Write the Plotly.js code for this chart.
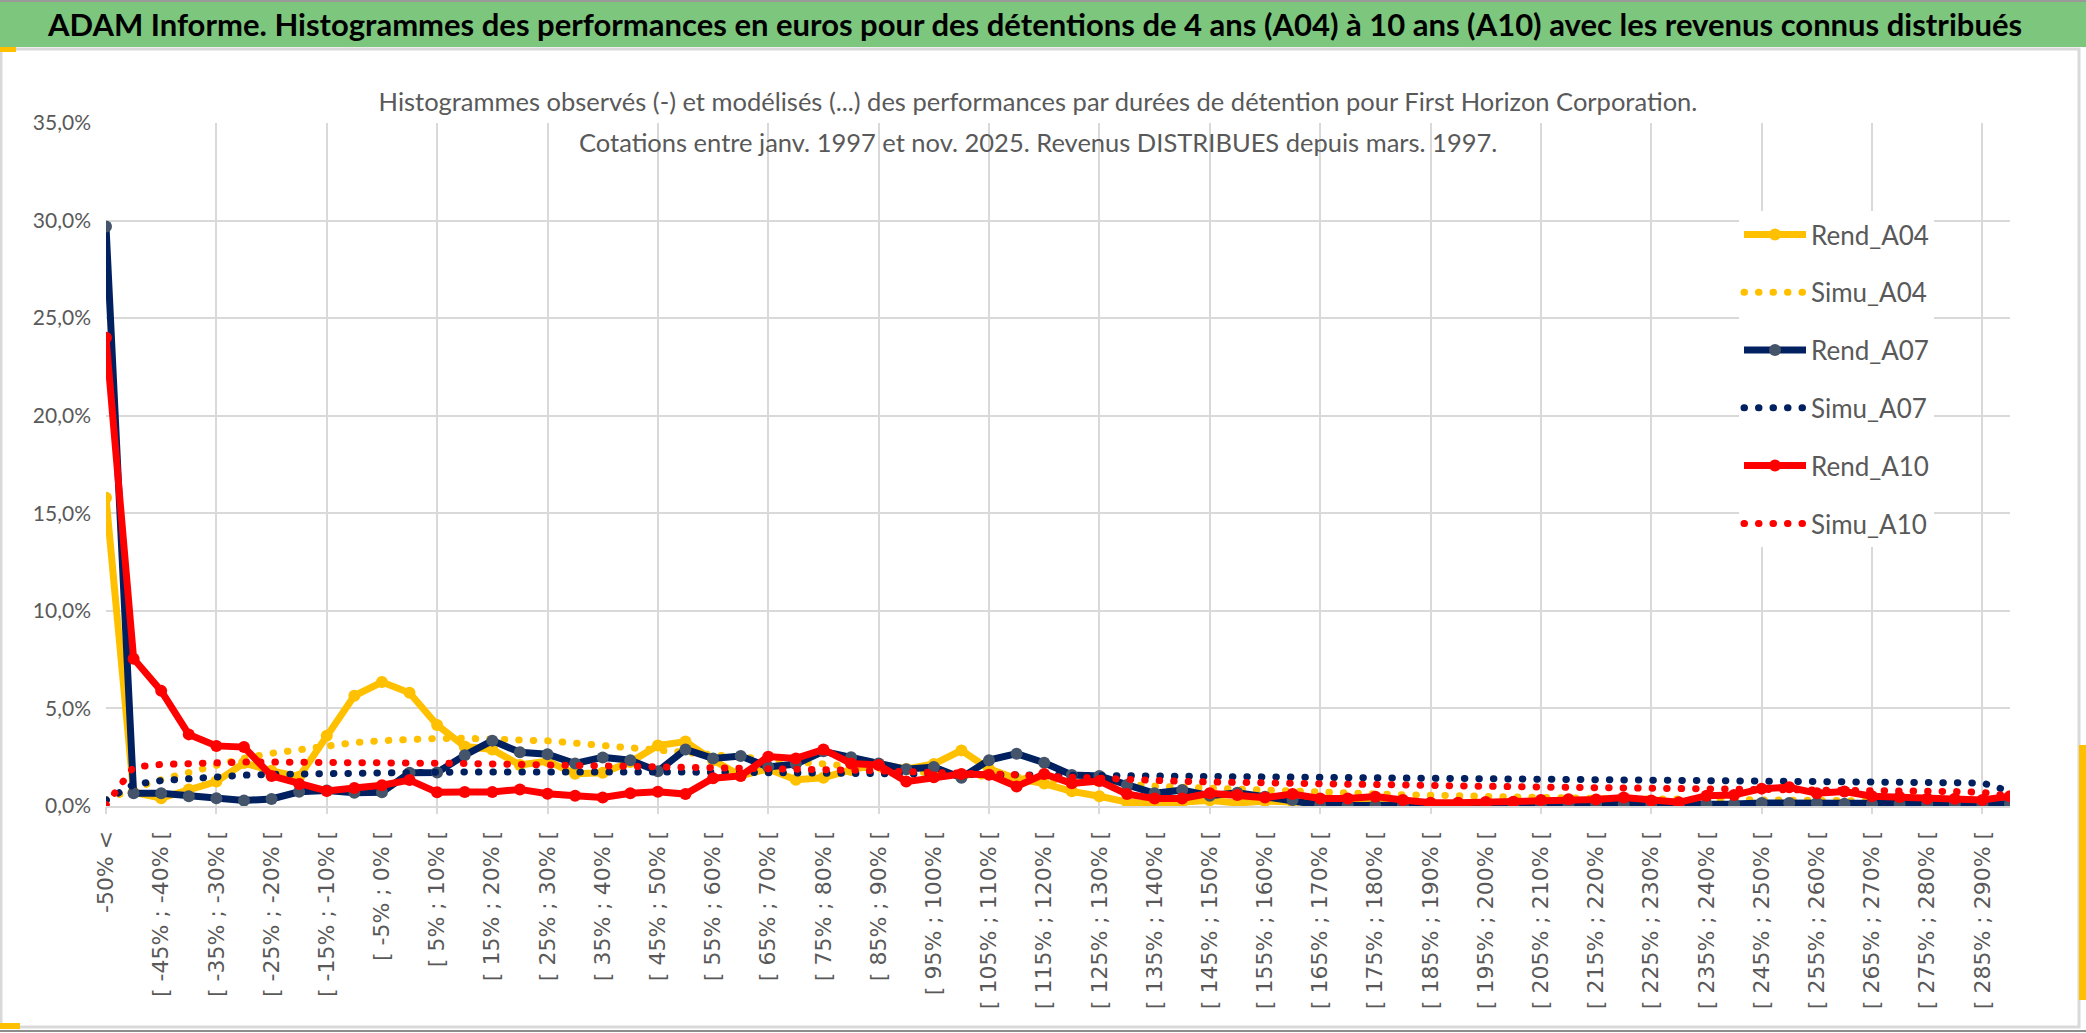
<!DOCTYPE html>
<html>
<head>
<meta charset="utf-8">
<script src="https://cdn.plot.ly/plotly-3.0.1.min.js"></script>
<style>
  body { margin: 0; background: #fff; }
  #myDiv { width: 2086px; height: 1033px; }
</style>
</head>
<body>
<div id="myDiv"></div>
<script>
// classes de performance (5 points), -50% < puis [ a% ; b% [
const categories = [
  "-50% <", "[ -50% ; -45% [", "[ -45% ; -40% [", "[ -40% ; -35% [", "[ -35% ; -30% [",
  "[ -30% ; -25% [", "[ -25% ; -20% [", "[ -20% ; -15% [", "[ -15% ; -10% [", "[ -10% ; -5% [",
  "[ -5% ; 0% [", "[ 0% ; 5% [", "[ 5% ; 10% [", "[ 10% ; 15% [", "[ 15% ; 20% [",
  "[ 20% ; 25% [", "[ 25% ; 30% [", "[ 30% ; 35% [", "[ 35% ; 40% [", "[ 40% ; 45% [",
  "[ 45% ; 50% [", "[ 50% ; 55% [", "[ 55% ; 60% [", "[ 60% ; 65% [", "[ 65% ; 70% [",
  "[ 70% ; 75% [", "[ 75% ; 80% [", "[ 80% ; 85% [", "[ 85% ; 90% [", "[ 90% ; 95% [",
  "[ 95% ; 100% [", "[ 100% ; 105% [", "[ 105% ; 110% [", "[ 110% ; 115% [", "[ 115% ; 120% [",
  "[ 120% ; 125% [", "[ 125% ; 130% [", "[ 130% ; 135% [", "[ 135% ; 140% [", "[ 140% ; 145% [",
  "[ 145% ; 150% [", "[ 150% ; 155% [", "[ 155% ; 160% [", "[ 160% ; 165% [", "[ 165% ; 170% [",
  "[ 170% ; 175% [", "[ 175% ; 180% [", "[ 180% ; 185% [", "[ 185% ; 190% [", "[ 190% ; 195% [",
  "[ 195% ; 200% [", "[ 200% ; 205% [", "[ 205% ; 210% [", "[ 210% ; 215% [", "[ 215% ; 220% [",
  "[ 220% ; 225% [", "[ 225% ; 230% [", "[ 230% ; 235% [", "[ 235% ; 240% [", "[ 240% ; 245% [",
  "[ 245% ; 250% [", "[ 250% ; 255% [", "[ 255% ; 260% [", "[ 260% ; 265% [", "[ 265% ; 270% [",
  "[ 270% ; 275% [", "[ 275% ; 280% [", "[ 280% ; 285% [", "[ 285% ; 290% [", "[ 290% ; 295% ["
]

// une etiquette sur deux est affichee
const tickLabels = categories.filter((c, i) => i % 2 === 0)

// valeurs en %
const rendA04 = [
  15.8, 0.7, 0.4, 0.85, 1.25, 2.2, 1.8, 1.5, 3.6, 5.65,
  6.35, 5.8, 4.15, 3.05, 2.9, 2.1, 2.3, 1.65, 1.7, 2.25,
  3.1, 3.3, 2.35, 1.55, 1.9, 1.35, 1.45, 1.85, 2.15, 1.9,
  2.15, 2.85, 1.9, 1.4, 1.15, 0.75, 0.5, 0.2, 0.1, 0.2,
  0.3, 0.15, 0.25, 0.2, 0.2, 0.15, 0.2, 0.15, 0.1, 0.05,
  0.1, 0.05, 0.1, 0.05, 0.05, 0.0, 0.05, 0.0, 0.05, 0.05,
  0.0, 0.05, 0.05, 0.0, 0.05, 0.05, 0.0, 0.05, 0.05, 0.0
]
const simuA04 = [
  0.3, 0.9, 1.35, 1.7, 2.05, 2.45, 2.7, 2.9, 3.1, 3.25,
  3.35, 3.42, 3.46, 3.47, 3.45, 3.4, 3.34, 3.22, 3.1, 2.98,
  2.85, 2.72, 2.58, 2.45, 2.32, 2.2, 2.08, 1.97, 1.87, 1.77,
  1.68, 1.59, 1.5, 1.41, 1.32, 1.24, 1.16, 1.09, 1.02, 0.96,
  0.9, 0.85, 0.8, 0.75, 0.7, 0.66, 0.62, 0.58, 0.54, 0.51,
  0.48, 0.45, 0.43, 0.41, 0.39, 0.37, 0.35, 0.34, 0.32, 0.31,
  0.3, 0.29, 0.28, 0.27, 0.26, 0.25, 0.24, 0.23, 0.22, 0.2
]
const rendA07 = [
  29.7, 0.65, 0.65, 0.5, 0.4, 0.28, 0.36, 0.73, 0.8, 0.68,
  0.7, 1.7, 1.72, 2.6, 3.35, 2.75, 2.65, 2.18, 2.49, 2.35,
  1.78, 2.9, 2.44, 2.56, 2.0, 2.15, 2.8, 2.5, 2.18, 1.88,
  2.0, 1.45, 2.35, 2.68, 2.22, 1.59, 1.54, 1.08, 0.65, 0.82,
  0.53, 0.68, 0.48, 0.31, 0.05, 0.03, 0.03, 0.05, 0.1, 0.1,
  0.12, 0.08, 0.1, 0.1, 0.12, 0.1, 0.1, 0.12, 0.1, 0.1,
  0.15, 0.15, 0.15, 0.12, 0.1, 0.1, 0.1, 0.1, 0.1, 0.12
]
const simuA07 = [
  0.3, 1.1, 1.3, 1.42, 1.52, 1.58, 1.62, 1.65, 1.67, 1.69,
  1.7, 1.72, 1.73, 1.74, 1.75, 1.76, 1.76, 1.76, 1.76, 1.75,
  1.75, 1.74, 1.73, 1.72, 1.71, 1.7, 1.69, 1.68, 1.67, 1.66,
  1.64, 1.62, 1.6, 1.58, 1.57, 1.55, 1.54, 1.52, 1.5, 1.49,
  1.48, 1.47, 1.45, 1.44, 1.43, 1.42, 1.41, 1.4, 1.38, 1.37,
  1.36, 1.35, 1.34, 1.33, 1.32, 1.31, 1.3, 1.29, 1.28, 1.27,
  1.26, 1.25, 1.24, 1.23, 1.22, 1.21, 1.2, 1.19, 1.18, 0.75
]
const rendA10 = [
  24.0, 7.55, 5.9, 3.67, 3.08, 3.02, 1.54, 1.13, 0.77, 0.92,
  1.06, 1.33, 0.7, 0.72, 0.72, 0.85, 0.63, 0.53, 0.44, 0.65,
  0.73, 0.61, 1.42, 1.54, 2.53, 2.44, 2.9, 2.18, 2.1, 1.25,
  1.47, 1.64, 1.6, 1.0, 1.64, 1.16, 1.28, 0.61, 0.39, 0.39,
  0.65, 0.56, 0.43, 0.61, 0.39, 0.39, 0.48, 0.31, 0.17, 0.17,
  0.2, 0.22, 0.31, 0.35, 0.33, 0.43, 0.28, 0.19, 0.52, 0.56,
  0.89, 0.96, 0.65, 0.74, 0.5, 0.46, 0.37, 0.37, 0.31, 0.5
]
const simuA10 = [
  0.05, 2.0, 2.13, 2.2, 2.23, 2.25, 2.25, 2.25, 2.24, 2.24,
  2.23, 2.22, 2.2, 2.18, 2.15, 2.12, 2.08, 2.05, 2.02, 2.0,
  1.98, 1.96, 1.94, 1.92, 1.9, 1.88, 1.86, 1.84, 1.81, 1.78,
  1.74, 1.7, 1.65, 1.6, 1.53, 1.46, 1.39, 1.33, 1.29, 1.26,
  1.23, 1.2, 1.18, 1.16, 1.14, 1.12, 1.1, 1.07, 1.05, 1.03,
  1.0, 0.99, 0.97, 0.96, 0.94, 0.93, 0.91, 0.9, 0.88, 0.87,
  0.85, 0.84, 0.82, 0.81, 0.79, 0.78, 0.76, 0.74, 0.7, 0.5
]

const W = 2086
const H = 1033
const M = { l: 106, r: 76, t: 123, b: 227 }

// pixels de la page -> coordonnees paper
function px(x) {
  return (x - M.l) / (W - M.l - M.r)
}
function py(y) {
  return (H - M.b - y) / (H - M.t - M.b)
}

const jaune = "#FFC000"
const marine = "#002060"
const rouge = "#FF0000"

function rend(nom, y, couleur, marqueur) {
  return {
    x: categories,
    y: y,
    name: nom,
    legendgroup: nom,
    type: "scatter",
    mode: "lines+markers",
    line: { color: couleur, width: 7 },
    marker: { color: marqueur, size: 12, line: { width: 0 } },
  }
}

function simu(nom, y, couleur) {
  return {
    x: categories,
    y: y,
    name: nom,
    legendgroup: nom,
    type: "scatter",
    mode: "lines",
    line: { color: couleur, width: 7, dash: "2px,12px" },
  }
}

const data = [
  rend("Rend_A04", rendA04, jaune, jaune),
  simu("Simu_A04", simuA04, jaune),
  rend("Rend_A07", rendA07, marine, "#44546A"),
  simu("Simu_A07", simuA07, marine),
  rend("Rend_A10", rendA10, rouge, rouge),
  simu("Simu_A10", simuA10, rouge),
  // porte seulement la grille verticale (un trait toutes les 4 classes)
  { x: [], y: [], xaxis: "x2", yaxis: "y", type: "scatter", showlegend: false, hoverinfo: "skip" },
]

const gris = "#595959"
const grille = "#D9D9D9"

const layout = {
  width: W,
  height: H,
  margin: M,
  paper_bgcolor: "#fff",
  plot_bgcolor: "#fff",
  separators: ", ",
  showlegend: true,
  title: {
    text: "Histogrammes observés (-) et modélisés (...) des performances par durées de détention pour First Horizon Corporation.",
    font: { family: "Lato, sans-serif", size: 25.5, color: gris },
    x: 1038 / W,
    xref: "container",
    xanchor: "center",
    y: 1 - 102 / H,
    yref: "container",
    yanchor: "middle",
  },
  xaxis: {
    type: "category",
    categoryorder: "array",
    categoryarray: categories,
    range: [0, 69],
    tickmode: "array",
    tickvals: tickLabels,
    ticktext: tickLabels,
    tickangle: -90,
    tickfont: { family: "DejaVu Sans, sans-serif", size: 22, color: gris },
    ticks: "",
    ticklabelstandoff: 14,
    showgrid: false,
    showline: true,
    linecolor: grille,
    linewidth: 2,
    zeroline: false,
  },
  xaxis2: {
    overlaying: "x",
    anchor: "y",
    side: "bottom",
    type: "linear",
    range: [0, 69],
    tickmode: "linear",
    tick0: 0,
    dtick: 4,
    showticklabels: false,
    showgrid: true,
    gridcolor: grille,
    gridwidth: 2,
    ticks: "outside",
    ticklen: 7,
    tickwidth: 2,
    tickcolor: grille,
    zeroline: false,
  },
  yaxis: {
    range: [0, 35],
    dtick: 5,
    tickformat: ".1f",
    ticksuffix: "%",
    tickfont: { family: "Lato, sans-serif", size: 21, color: gris },
    ticklabelstandoff: 14,
    showgrid: true,
    gridcolor: grille,
    gridwidth: 2,
    zeroline: false,
    showline: false,
  },
  legend: {
    x: px(1739),
    xanchor: "left",
    y: py(211),
    yanchor: "top",
    bgcolor: "#fff",
    traceorder: "grouped",
    tracegroupgap: 21,
    itemwidth: 62,
    font: { family: "Lato, sans-serif", size: 26, color: gris },
  },
  annotations: [
    {
      text: "<b>ADAM Informe. Histogrammes des performances en euros pour des détentions de 4 ans (A04) à 10 ans (A10) avec les revenus connus distribués</b>",
      xref: "paper", yref: "paper",
      x: px(1034), y: py(24),
      xanchor: "center", yanchor: "middle",
      showarrow: false,
      font: { family: "Lato, sans-serif", size: 31, color: "#000" },
    },
    {
      text: "Cotations entre janv. 1997 et nov. 2025. Revenus DISTRIBUES depuis mars. 1997.",
      xref: "paper", yref: "paper",
      x: px(1038), y: py(142),
      xanchor: "center", yanchor: "middle",
      showarrow: false,
      font: { family: "Lato, sans-serif", size: 25.5, color: gris },
    },
  ],
  shapes: [
    // bandeau vert
    { type: "rect", xref: "paper", yref: "paper", x0: px(0), x1: px(W), y0: py(47), y1: py(2),
      fillcolor: "#7dc67d", line: { width: 0 }, layer: "below" },
    { type: "line", xref: "paper", yref: "paper", x0: px(0), x1: px(W), y0: py(1), y1: py(1),
      line: { color: "#9a9a9a", width: 2 } },
    // cadre du graphique
    { type: "rect", xref: "paper", yref: "paper", x0: px(1), x1: px(2079), y0: py(1027), y1: py(49),
      line: { color: grille, width: 3 }, layer: "below" },
    { type: "line", xref: "paper", yref: "paper", x0: px(0), x1: px(W), y0: py(1031), y1: py(1031),
      line: { color: "#8c8c8c", width: 2 } },
    // fond blanc du titre par-dessus la grille
    { type: "rect", xref: "paper", yref: "paper", x0: px(367), x1: px(1710), y0: py(166), y1: py(122),
      fillcolor: "#fff", line: { width: 0 }, layer: "between" },
    // marques jaunes de selection
    { type: "rect", xref: "paper", yref: "paper", x0: px(2079), x1: px(W), y0: py(1000), y1: py(745),
      fillcolor: jaune, line: { width: 0 } },
    { type: "rect", xref: "paper", yref: "paper", x0: px(0), x1: px(16), y0: py(52), y1: py(47),
      fillcolor: jaune, line: { width: 0 } },
    { type: "rect", xref: "paper", yref: "paper", x0: px(0), x1: px(20), y0: py(1029), y1: py(1023),
      fillcolor: jaune, line: { width: 0 } },
  ],
}

Plotly.newPlot("myDiv", data, layout, { staticPlot: true, displayModeBar: false }).then(function (gd) {
  // points ronds pour les courbes simulees (comme Excel)
  gd.querySelectorAll("path.js-line").forEach(function (p) {
    const d = p.style.strokeDasharray
    if (d && d !== "none") {
      p.style.strokeLinecap = "round"
      p.style.strokeDasharray = "0.5px, 14px"
    }
  })
})
</script>
</body>
</html>
